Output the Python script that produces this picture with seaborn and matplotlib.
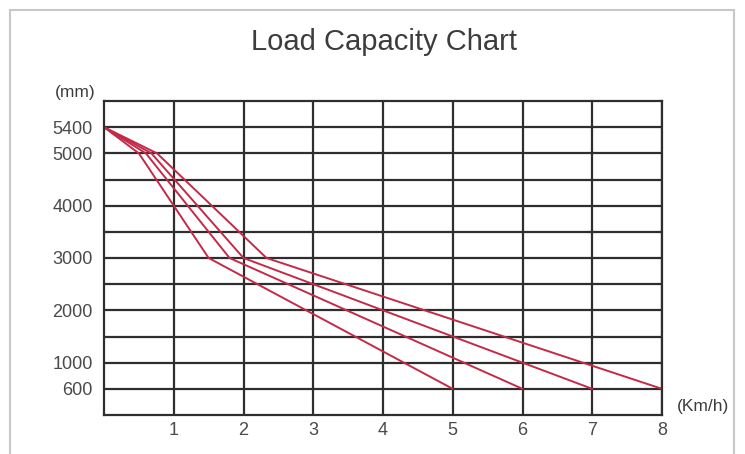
import matplotlib
matplotlib.use("Agg")
import matplotlib.pyplot as plt
import numpy as np
import pandas as pd
import seaborn as sns
from matplotlib.patches import Rectangle

# travel speed (km/h) at each break point, one curve per top speed
SPEED_5 = [0, 0.5, 1.5, 5]
SPEED_6 = [0, 0.6, 1.8, 6]
SPEED_7 = [0, 0.68, 2.0, 7]
SPEED_8 = [0, 0.76, 2.33, 8]
# lift height (mm) at the same break points
HEIGHT = [5400, 5000, 3000, 600]

CURVES = {"5": SPEED_5, "6": SPEED_6, "7": SPEED_7, "8": SPEED_8}
Y_TICKS = [600, 1000, 2000, 3000, 4000, 5000, 5400]
Y_MINOR = [1500, 2500, 3500, 4500]
X_TICKS = [1, 2, 3, 4, 5, 6, 7, 8]

# the printed chart draws 5400 and 600 on the half-step grid lines
MM_VALUE = [0, 600, 1000, 5000, 5400, 6000]
MM_DRAWN = [0, 500, 1000, 5000, 5500, 6000]

LINE_COLOR = "#c42a48"
GRID_COLOR = "#2e2e2e"
TEXT_COLOR = "#3c3c3c"


def forward(y):
    return np.interp(y, MM_VALUE, MM_DRAWN)


def inverse(y):
    return np.interp(y, MM_DRAWN, MM_VALUE)


rows = []
for name, speeds in CURVES.items():
    for s, h in zip(speeds, HEIGHT):
        rows.append({"curve": name, "speed": s, "height": h})
df = pd.DataFrame(rows)

sns.set_style("white")
plt.rcParams["font.family"] = ["Liberation Sans", "DejaVu Sans"]

fig = plt.figure(figsize=(7.45, 4.54), dpi=100)
ax = fig.add_axes([104 / 745, 1 - 415 / 454, (662 - 104) / 745, (415 - 101) / 454])
ax.set_yscale("function", functions=(forward, inverse))

sns.lineplot(
    data=df, x="speed", y="height", hue="curve", estimator=None, sort=False,
    palette=[LINE_COLOR] * len(CURVES), linewidth=1.4, legend=False, ax=ax,
)

ax.set_xlim(0, 8)
ax.set_ylim(0, 6000)
ax.set_xticks(X_TICKS)
ax.set_yticks(Y_TICKS)
ax.set_yticks(Y_MINOR, minor=True)
ax.set_xlabel("")
ax.set_ylabel("")
ax.set_axisbelow(True)
ax.grid(which="both", color=GRID_COLOR, linewidth=1.6)
ax.tick_params(which="both", length=0, labelsize=13, colors="#4a4a4a")
ax.tick_params(axis="y", pad=8)
ax.tick_params(axis="x", pad=5)
for spine in ax.spines.values():
    spine.set_color(GRID_COLOR)
    spine.set_linewidth(1.6)

fig.text(384 / 745, 1 - 42 / 454, "Load Capacity Chart", ha="center", va="center",
         fontsize=21, color=TEXT_COLOR)
fig.text(75 / 745, 1 - 93 / 454, "(mm)", ha="center", va="center", fontsize=12.5,
         color=TEXT_COLOR)
fig.text(703 / 745, 1 - 407 / 454, "(Km/h)", ha="center", va="center", fontsize=12.5,
         color=TEXT_COLOR)

fig.patches.append(Rectangle((10 / 745, -0.1), (734 - 10) / 745, 1.1 - 10 / 454,
                             transform=fig.transFigure, fill=False,
                             edgecolor="#c8c8c8", linewidth=1.5))

fig.savefig("out.png", dpi=100)
plt.close(fig)
